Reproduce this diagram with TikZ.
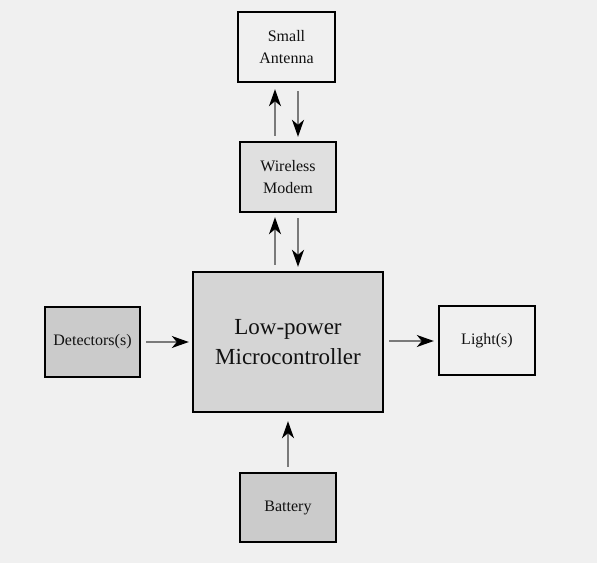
\documentclass[tikz,border=0pt]{standalone}
\usepackage{fontspec}
\setmainfont{Liberation Serif}
\newfontfamily\blockfont{Liberation Serif}
\usetikzlibrary{arrows.meta}
\definecolor{paper}{HTML}{F0F0F0}
\definecolor{shadeA}{HTML}{CBCBCB}
\definecolor{shadeB}{HTML}{D5D5D5}
\definecolor{shadeC}{HTML}{E0E0E0}
\definecolor{wire}{HTML}{7A7A7A}
\definecolor{ink}{HTML}{111111}
\tikzset{
  block/.style={draw=black, line width=2.4pt, inner sep=2pt, align=center,
    text=ink, font=\blockfont\fontsize{16}{22}\selectfont},
  bigblock/.style={block, font=\blockfont\fontsize{23}{30}\selectfont},
  arr/.style={draw=wire, line width=1.3pt,
    -{Stealth[length=17pt,width=12pt,inset=5pt,color=black,fill=black]}},
}
\begin{document}
\begin{tikzpicture}[x=1pt,y=-1pt]
  \fill[paper] (0,0) rectangle (597,563);
  \useasboundingbox (0,0) rectangle (597,563);

  % blocks
  \node[block, fill=paper, minimum width=97pt, minimum height=70pt] (ant) at (286.5,47) {Small\\Antenna};
  \node[block, fill=shadeC, minimum width=96pt, minimum height=70pt] (modem) at (288,177) {Wireless\\Modem};
  \node[bigblock, fill=shadeB, minimum width=190pt, minimum height=140pt] (mcu) at (288,342) {Low-power\\Microcontroller};
  \node[block, fill=shadeA, minimum width=95pt, minimum height=70pt] (det) at (92.5,342) {Detectors(s)};
  \node[block, fill=paper, minimum width=96pt, minimum height=69pt] (light) at (487,340.5) {Light(s)};
  \node[block, fill=shadeA, minimum width=96pt, minimum height=69pt] (bat) at (288,507.5) {Battery};

  % columns for the paired links
  \coordinate (cu) at (275,0);
  \coordinate (cd) at (298,0);
  \coordinate (cb) at (288,0);
  \coordinate (rl) at (0,342);
  \coordinate (rr) at (0,341);

  % modem <-> antenna
  \draw[arr, shorten <=5pt, shorten >=6pt] (modem.north -| cu) -- (ant.south -| cu);
  \draw[arr, shorten <=8pt, shorten >=4pt] (ant.south -| cd) -- (modem.north -| cd);
  % microcontroller <-> modem
  \draw[arr, shorten <=6pt, shorten >=4pt] (mcu.north -| cu) -- (modem.south -| cu);
  \draw[arr, shorten <=5pt, shorten >=4pt] (modem.south -| cd) -- (mcu.north -| cd);
  % inputs and outputs
  \draw[arr, shorten <=5pt, shorten >=3pt] (det.east |- rl) -- (mcu.west |- rl);
  \draw[arr, shorten <=5pt, shorten >=4pt] (mcu.east |- rr) -- (light.west |- rr);
  \draw[arr, shorten <=5pt, shorten >=8pt] (bat.north -| cb) -- (mcu.south -| cb);
\end{tikzpicture}
\end{document}
